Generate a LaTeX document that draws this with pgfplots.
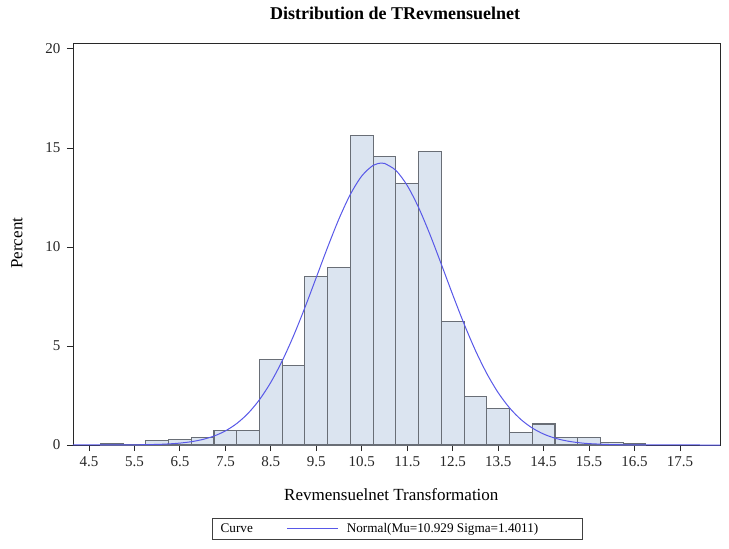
\documentclass[border=0pt]{standalone}
\usepackage{fontspec}
\setmainfont{Liberation Serif}
\usepackage{pgfplots}
\usepackage{pgfplotstable}
\pgfplotsset{compat=1.18}

\definecolor{barfill}{RGB}{219,228,240}
\definecolor{bardraw}{RGB}{105,110,118}
\definecolor{curveblue}{RGB}{88,88,232}
\definecolor{axisgray}{RGB}{40,40,40}

\pgfplotsset{longline/.style={legend image code/.code={\draw[##1] (0bp,0bp) -- (51bp,0bp); \path (57bp,0bp);}}}

% percent per bin, x = left edge of each 0.5 wide bin
\pgfplotstableread{
left  pct
4.75  0.09
5.25  0.00
5.75  0.21
6.25  0.26
6.75  0.39
7.25  0.74
7.75  0.74
8.25  4.33
8.75  4.03
9.25  8.51
9.75  8.97
10.25 15.62
10.75 14.57
11.25 13.20
11.75 14.83
12.25 6.25
12.75 2.43
13.25 1.83
13.75 0.62
14.25 1.06
14.75 0.37
15.25 0.37
15.75 0.13
16.25 0.05
16.75 0.05
}\bins

\begin{document}
\begin{tikzpicture}
\path[use as bounding box] (-73bp,-104bp) rectangle (656bp,445bp);
\begin{axis}[
    at={(0,0)}, anchor=south west,
    scale only axis,
    width=647bp, height=402bp,
    xmin=4.148, xmax=18.38,
    ymin=0, ymax=20.3,
    xtick={4.5,5.5,...,17.5},
    ytick={0,5,10,15,20},
    tick pos=left,
    tick align=outside,
    major tick length=6bp,
    axis line style={axisgray, line width=0.9bp},
    tick style={axisgray, line width=0.9bp},
    /pgf/number format/assume math mode=true,
    tick label style={font=\fontsize{15bp}{17bp}\selectfont, text=black!85},
    xticklabel style={yshift=-2bp},
    yticklabel style={xshift=-3bp},
    title={Distribution de TRevmensuelnet},
    title style={font=\fontsize{18bp}{20bp}\selectfont\bfseries,
        at={(axis description cs:0.498,1)}, anchor=center, yshift=24bp},
    xlabel={Revmensuelnet Transformation},
    xlabel style={font=\fontsize{17bp}{19bp}\selectfont,
        at={(axis description cs:0.492,0)}, anchor=center, yshift=-50bp},
    ylabel={Percent},
    ylabel style={font=\fontsize{17bp}{19bp}\selectfont,
        at={(axis description cs:0,0.502)}, anchor=center, yshift=56bp},
    legend style={at={(0.5015,-0.182)}, anchor=north,
        legend columns=-1, draw=black!75, line width=0.8bp,
        font=\fontsize{13.2bp}{15bp}\selectfont,
        inner xsep=6bp, inner ysep=3bp,
        /tikz/every even column/.append style={column sep=32bp}},
]
\addplot[ybar interval, fill=barfill, draw=bardraw, line width=1.1bp, forget plot]
    table[x=left, y=pct] {\bins};
\addlegendimage{empty legend}
\addlegendentry{Curve}
\addplot[curveblue, line width=1bp, smooth, longline]
coordinates {
(4.148,0.0001) (5.0,0.0018) (5.5,0.0078) (6.0,0.0292) (6.25,0.054)
(6.5,0.0963) (6.75,0.1667) (7.0,0.279) (7.25,0.453) (7.5,0.712)
(7.75,1.085) (8.0,1.601) (8.25,2.288) (8.5,3.168) (8.75,4.249)
(9.0,5.518) (9.25,6.943) (9.5,8.464) (9.75,9.992) (10.0,11.428)
(10.25,12.660) (10.5,13.585) (10.75,14.121) (10.929,14.237) (11.0,14.219)
(11.25,13.868) (11.5,13.102) (11.75,11.990) (12.0,10.630) (12.25,9.128)
(12.5,7.592) (12.75,6.118) (13.0,4.775) (13.25,3.611) (13.5,2.644)
(13.75,1.876) (14.0,1.289) (14.25,0.858) (14.5,0.553) (14.75,0.3456)
(15.0,0.209) (15.25,0.1225) (15.5,0.0695) (16.0,0.0204) (16.5,0.0053)
(17.0,0.0012) (18.0,0.0000) (18.38,0.0000)
};
\addlegendentry{Normal(Mu=10.929 Sigma=1.4011)\hspace{36bp}\mbox{}}
\end{axis}
\end{tikzpicture}
\end{document}
